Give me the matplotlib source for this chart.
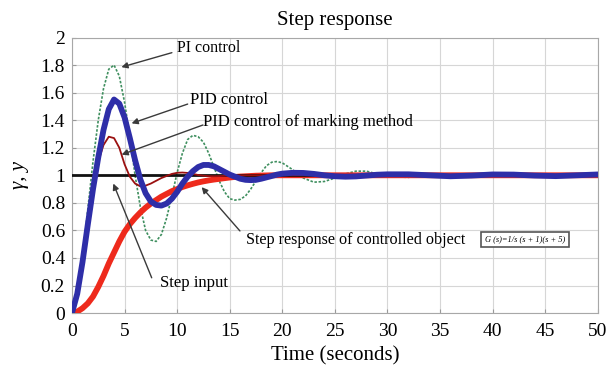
import matplotlib
matplotlib.use("Agg")
import matplotlib.pyplot as plt

# ─── Data ─────────────────────────────────────────────────────────────────────
t = [0, 0.5, 1, 1.5, 2, 2.5, 3, 3.5, 4, 4.5, 5, 5.5, 6, 6.5, 7, 7.5, 8, 8.5, 9, 9.5,
     10, 10.5, 11, 11.5, 12, 12.5, 13, 13.5, 14, 14.5, 15, 15.5, 16, 16.5, 17, 17.5, 18, 18.5, 19, 19.5,
     20, 21, 22, 23, 24, 25, 26, 27, 28, 29,
     30, 32, 34, 36, 38, 40, 42, 44, 46, 48, 50]

pi_ctrl = [0, 0.12, 0.40, 0.75, 1.10, 1.40, 1.63, 1.77, 1.80, 1.72, 1.53, 1.28, 1.00, 0.77, 0.60, 0.53, 0.52, 0.57, 0.69, 0.85,
           1.02, 1.16, 1.26, 1.29, 1.28, 1.24, 1.16, 1.06, 0.96, 0.88, 0.83, 0.82, 0.825, 0.85, 0.90, 0.96, 1.02, 1.07, 1.095, 1.10,
           1.09, 1.04, 0.98, 0.95, 0.955, 0.98, 1.01, 1.03, 1.03, 1.01,
           0.99, 0.985, 1.005, 1.01, 1.0, 0.993, 0.995, 1.003, 1.005, 1.0, 0.998]

pid_ctrl = [0, 0.14, 0.37, 0.64, 0.90, 1.13, 1.33, 1.48, 1.55, 1.52, 1.42, 1.27, 1.11, 0.97, 0.87, 0.81, 0.785, 0.78, 0.795, 0.83,
            0.88, 0.94, 0.99, 1.03, 1.06, 1.075, 1.075, 1.065, 1.045, 1.025, 1.005, 0.99, 0.975, 0.967, 0.965, 0.967, 0.975, 0.985, 0.995, 1.005,
            1.012, 1.018, 1.017, 1.01, 1.0, 0.993, 0.99, 0.992, 0.998, 1.004,
            1.007, 1.007, 1.0, 0.993, 0.998, 1.006, 1.005, 0.998, 0.994, 1.0, 1.006]

pid_marking = [0, 0.15, 0.40, 0.68, 0.92, 1.10, 1.22, 1.28, 1.27, 1.20, 1.08, 0.99, 0.94, 0.92, 0.925, 0.94, 0.96, 0.98, 0.995, 1.01,
               1.018, 1.02, 1.017, 1.01, 1.002, 0.997, 0.994, 0.993, 0.994, 0.996, 0.998, 1.0, 1.0, 1.0, 1.0, 1.0, 1.0, 1.0, 1.0, 1.0,
               1.0, 1.0, 1.0, 1.0, 1.0, 1.0, 1.0, 1.0, 1.0, 1.0,
               1.0, 1.0, 1.0, 1.0, 1.0, 1.0, 1.0, 1.0, 1.0, 1.0, 1.0]

plant = [0, 0.01, 0.035, 0.07, 0.12, 0.19, 0.27, 0.36, 0.44, 0.52, 0.59, 0.645, 0.69, 0.73, 0.765, 0.795, 0.82, 0.845, 0.865, 0.885,
         0.9, 0.915, 0.927, 0.938, 0.948, 0.956, 0.963, 0.969, 0.974, 0.979, 0.984, 0.988, 0.991, 0.993, 0.995, 0.997, 0.998, 0.999, 1.0, 1.0,
         1.0, 1.0, 1.0, 1.0, 1.0, 1.0, 1.0, 1.0, 1.0, 1.0,
         1.0, 1.0, 1.0, 1.0, 1.0, 1.0, 1.0, 1.0, 1.0, 1.0, 1.0]

step_t = [0, 50]
step_y = [1, 1]

xticks = list(range(0, 51, 5))
yticks = [0, 0.2, 0.4, 0.6, 0.8, 1, 1.2, 1.4, 1.6, 1.8, 2]
ytick_labels = ["0", "0.2", "0.4", "0.6", "0.8", "1", "1.2", "1.4", "1.6", "1.8", "2"]

# ─── Plot ─────────────────────────────────────────────────────────────────────
plt.rcParams["font.family"] = ["Liberation Serif", "DejaVu Serif"]

fig = plt.figure(figsize=(6.10, 3.79), dpi=100)
ax = fig.add_axes([0.118, 0.174, 0.862, 0.727])

ax.plot(t, pi_ctrl, color="#3f8f5f", lw=1.2, ls=(0, (1.5, 1)), zorder=3)
ax.plot(t, plant, color="#ee2a1c", lw=4.2, zorder=4, solid_capstyle="round")
ax.plot(step_t, step_y, color="#111111", lw=2, zorder=5)
ax.plot(t, pid_marking, color="#9a1010", lw=1.3, zorder=6)
ax.plot(t, pid_ctrl, color="#2e2ea8", lw=4.2, zorder=7, solid_capstyle="round")

ax.set_xlim(0, 50)
ax.set_ylim(0, 2)
ax.set_xticks(xticks)
ax.set_yticks(yticks)
ax.set_yticklabels(ytick_labels)
ax.tick_params(axis="both", direction="in", length=3, color="#999999", labelsize=14, pad=5)
ax.tick_params(axis="x", pad=7)
ax.grid(True, color="#d6d6d6", lw=0.8, zorder=0)
for sp in ax.spines.values():
    sp.set_color("#a8a8a8")

ax.set_title("Step response", fontsize=15, pad=9)
ax.set_xlabel("Time (seconds)", fontsize=15, labelpad=5)
ax.set_ylabel("γ, y", fontsize=15, style="italic", labelpad=8)

# annotations: text and arrow drawn separately
arrow = dict(arrowstyle="-|>", color="#3a3a3a", lw=1.0, mutation_scale=9, shrinkA=0, shrinkB=0)
ax.text(9.95, 1.925, "PI control", fontsize=11.5, va="center", ha="left", zorder=10)
ax.annotate("", xy=(4.7, 1.785), xytext=(9.5, 1.89), arrowprops=arrow, zorder=10)
ax.text(11.2, 1.55, "PID control", fontsize=12, va="center", ha="left", zorder=10)
ax.annotate("", xy=(5.67, 1.377), xytext=(11.0, 1.517), arrowprops=arrow, zorder=10)
ax.text(12.45, 1.385, "PID control of marking method", fontsize=12, va="center", ha="left", zorder=10)
ax.annotate("", xy=(4.72, 1.15), xytext=(12.45, 1.365), arrowprops=arrow, zorder=10)
ax.text(8.37, 0.215, "Step input", fontsize=12, va="center", ha="left", zorder=10)
ax.annotate("", xy=(3.93, 0.94), xytext=(7.58, 0.256), arrowprops=arrow, zorder=10)
ax.text(16.5, 0.53, "Step response of controlled object", fontsize=11.6, va="center", ha="left", zorder=10)
ax.annotate("", xy=(12.33, 0.914), xytext=(15.97, 0.596), arrowprops=arrow, zorder=10)

ax.text(43.1, 0.535, "G (s)=1/s (s + 1)(s + 5)", fontsize=6, style="italic", ha="center", va="center",
        bbox=dict(boxstyle="square,pad=0.45", fc="white", ec="#555555", lw=1.2), zorder=10)

fig.savefig("out.png", dpi=100)
